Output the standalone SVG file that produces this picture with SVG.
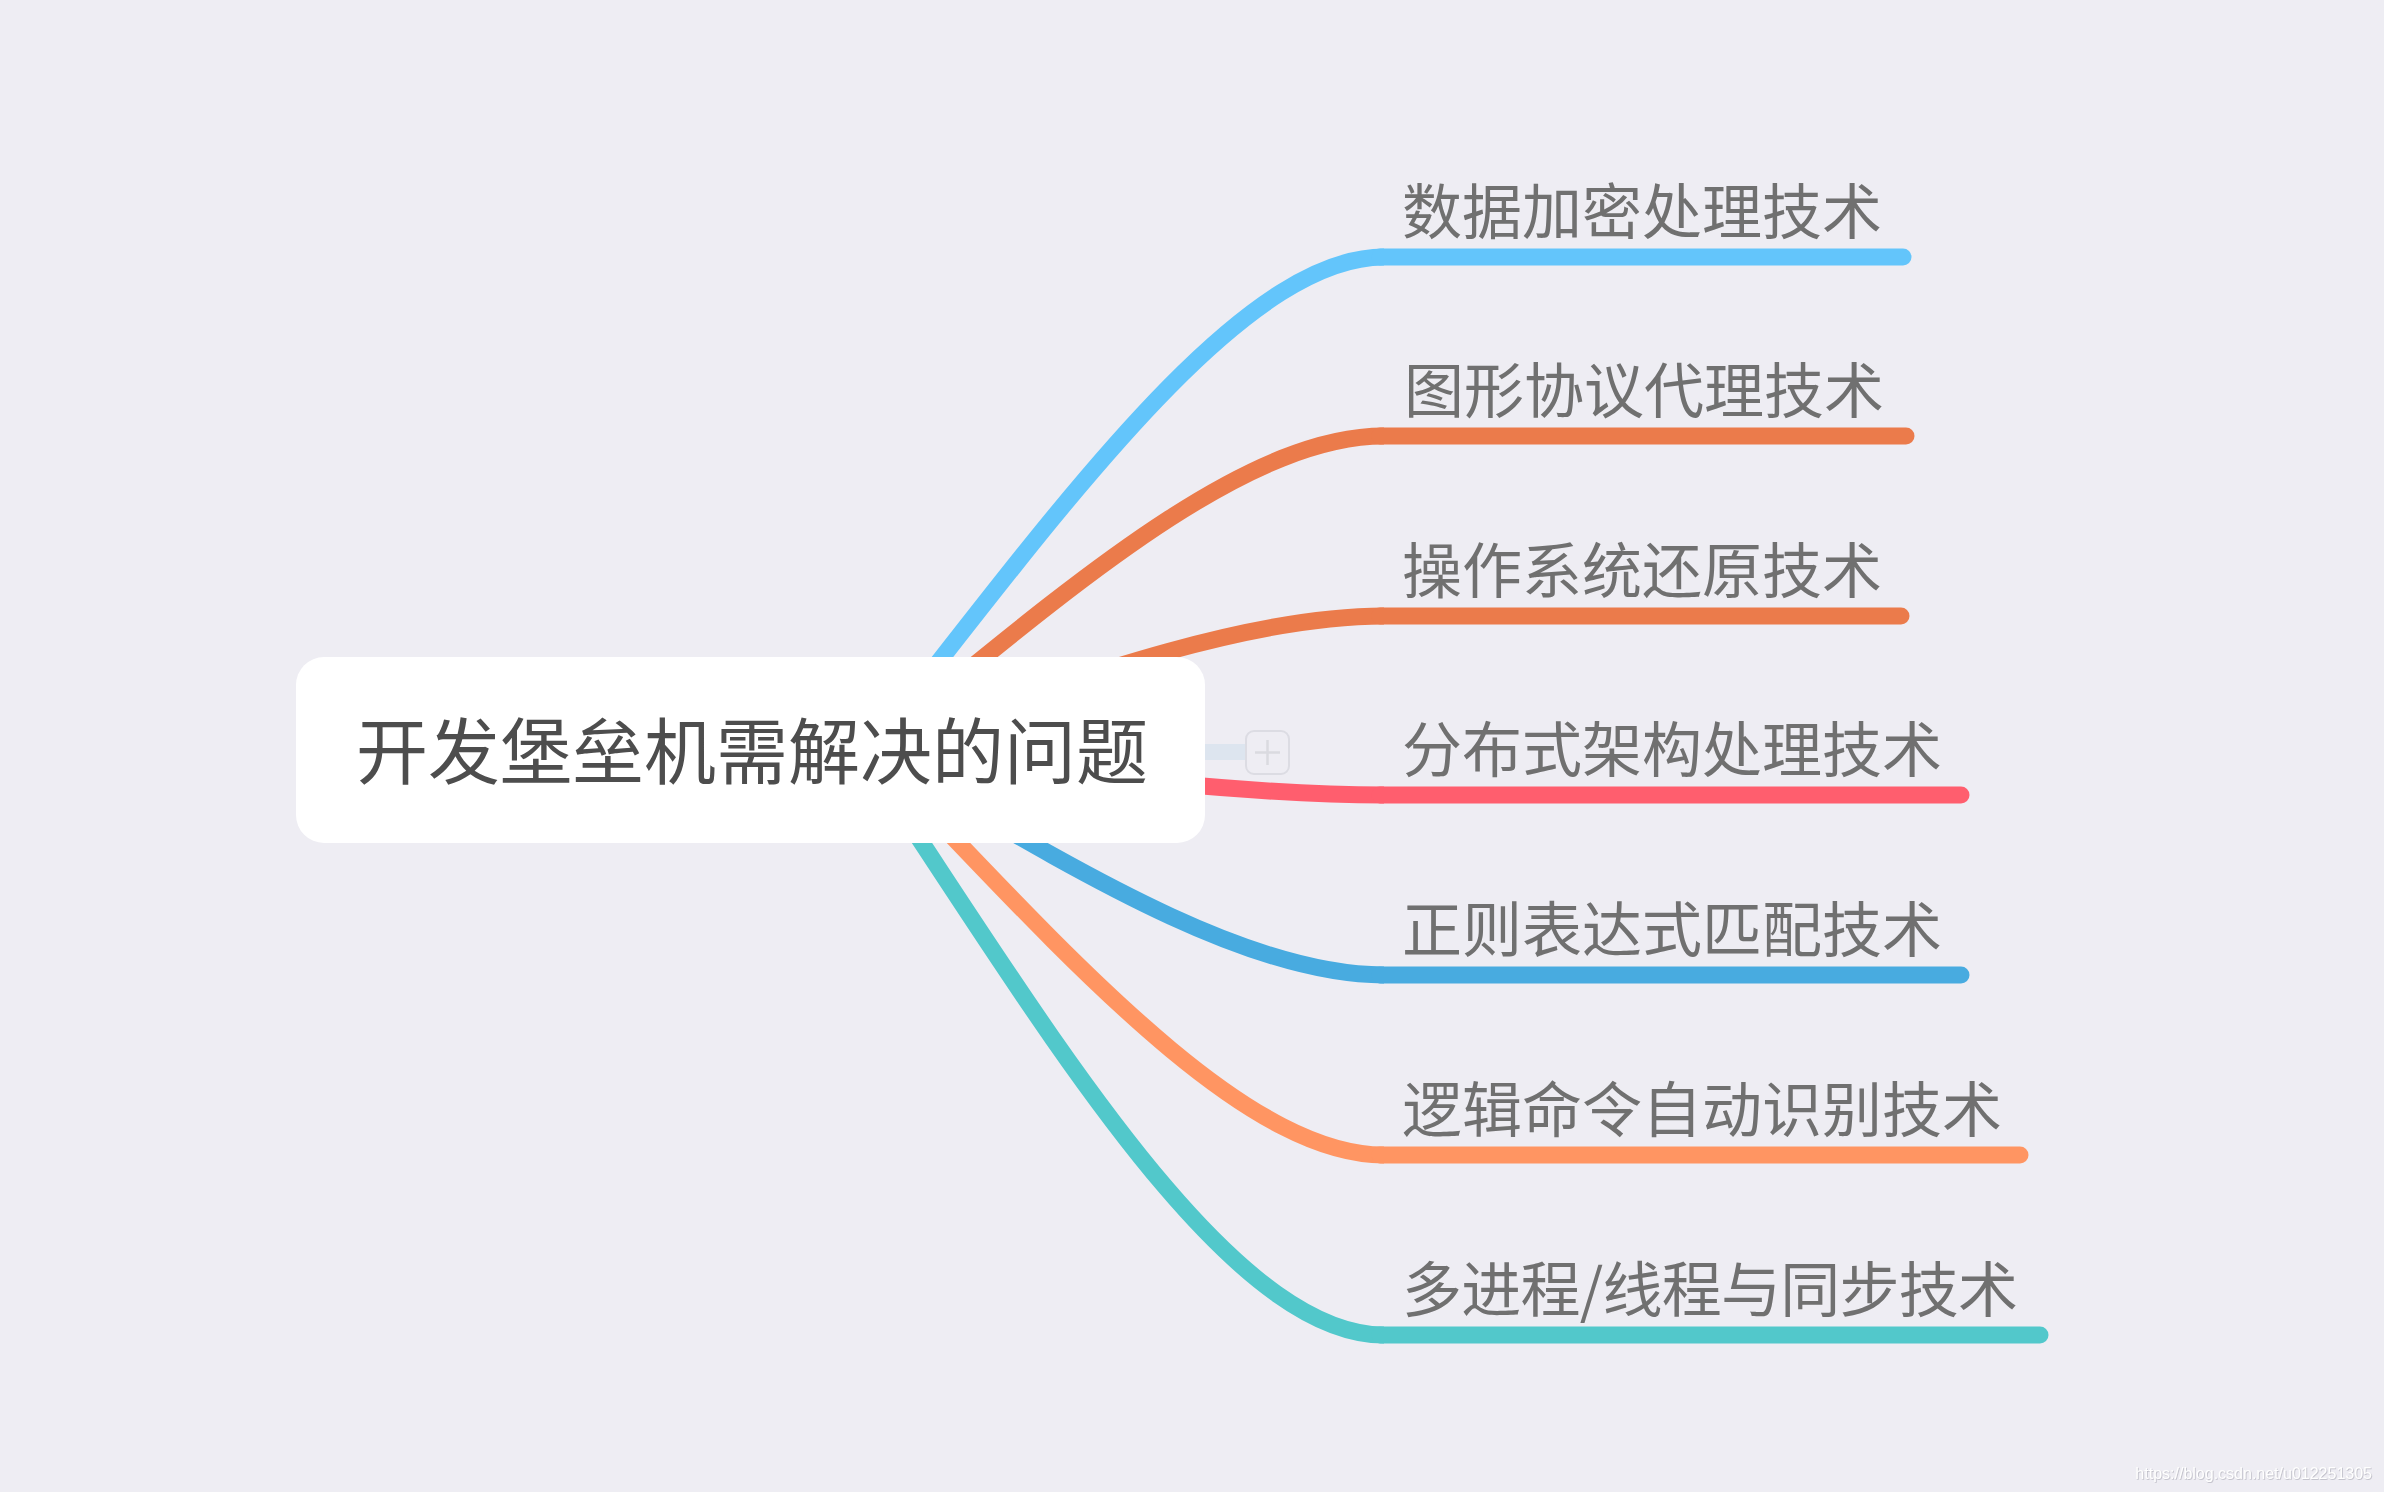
<svg xmlns="http://www.w3.org/2000/svg" width="2384" height="1492" viewBox="0 0 2384 1492">
<style>
.conn{fill:none;stroke-width:17;stroke-linecap:butt}
.under{fill:none;stroke-width:17;stroke-linecap:round}
.label{font-family:"Noto Sans CJK SC","Noto Sans",sans-serif;font-size:60px;fill:#707070}
.root{font-family:"Noto Sans CJK SC","Noto Sans",sans-serif;font-size:72px;fill:#4d4d4d}
.wm{font-family:"Liberation Sans",Arial,sans-serif;font-size:16px;fill:#ffffff}
</style>
<defs>
<filter id="sh" x="-5%" y="-50%" width="110%" height="200%">
<feDropShadow dx="0.8" dy="0.8" stdDeviation="0.6" flood-color="#9a9aa6" flood-opacity="0.6"/>
</filter>
</defs>
<rect x="0" y="0" width="2384" height="1492" fill="#eeedf3"/>
<g id="connectors">
<path class="conn" stroke="#63c5fb" d="M870 750 C1060 508 1240 257 1384 257"/>
<path class="conn" stroke="#eb7b4b" d="M870 750 C1060 596 1240 436 1384 436"/>
<path class="conn" stroke="#eb7b4b" d="M870 750 C1060 684 1240 616 1384 616"/>
<path class="conn" stroke="#ff5e6e" d="M870 750 C1060 772 1240 795 1384 795"/>
<path class="conn" stroke="#48abe0" d="M870 750 C1060 860 1240 975 1384 975"/>
<path class="conn" stroke="#ff9562" d="M870 750 C1060 948 1240 1155 1384 1155"/>
<path class="conn" stroke="#52c8cb" d="M860 750 C1030 1000 1220 1335 1384 1335"/>
<path fill="none" stroke="#dde5ef" stroke-width="16" d="M1200 752 L1246 752"/>
</g>
<g id="root">
<rect x="296" y="657" width="909" height="186" rx="28" ry="28" fill="#ffffff"/>
<text class="root" x="752" y="778" text-anchor="middle">开发堡垒机需解决的问题</text>
</g>
<g id="collapse">
<rect x="1246" y="731" width="43" height="43" rx="8" fill="#eeedf3" stroke="#dcdce3" stroke-width="2"/>
<path d="M1255 752.5 H1280 M1267.5 740 V765" stroke="#dadae0" stroke-width="2.5" fill="none"/>
</g>
<g id="n1">
<path class="under" stroke="#63c5fb" d="M1380 257 H1903"/>
<text class="label" x="1402" y="234">数据加密处理技术</text>
</g>
<g id="n2">
<path class="under" stroke="#eb7b4b" d="M1380 436 H1906"/>
<text class="label" x="1404" y="413">图形协议代理技术</text>
</g>
<g id="n3">
<path class="under" stroke="#eb7b4b" d="M1380 616 H1901"/>
<text class="label" x="1402" y="593">操作系统还原技术</text>
</g>
<g id="n4">
<path class="under" stroke="#ff5e6e" d="M1380 795 H1961"/>
<text class="label" x="1402" y="772">分布式架构处理技术</text>
</g>
<g id="n5">
<path class="under" stroke="#48abe0" d="M1380 975 H1961"/>
<text class="label" x="1402" y="952">正则表达式匹配技术</text>
</g>
<g id="n6">
<path class="under" stroke="#ff9562" d="M1380 1155 H2020"/>
<text class="label" x="1402" y="1132">逻辑命令自动识别技术</text>
</g>
<g id="n7">
<path class="under" stroke="#52c8cb" d="M1380 1335 H2040"/>
<text class="label" x="1402" y="1312" textLength="616" lengthAdjust="spacing">多进程/线程与同步技术</text>
</g>
<text class="wm" x="2372" y="1479" text-anchor="end" filter="url(#sh)">https://blog.csdn.net/u012251305</text>
</svg>
